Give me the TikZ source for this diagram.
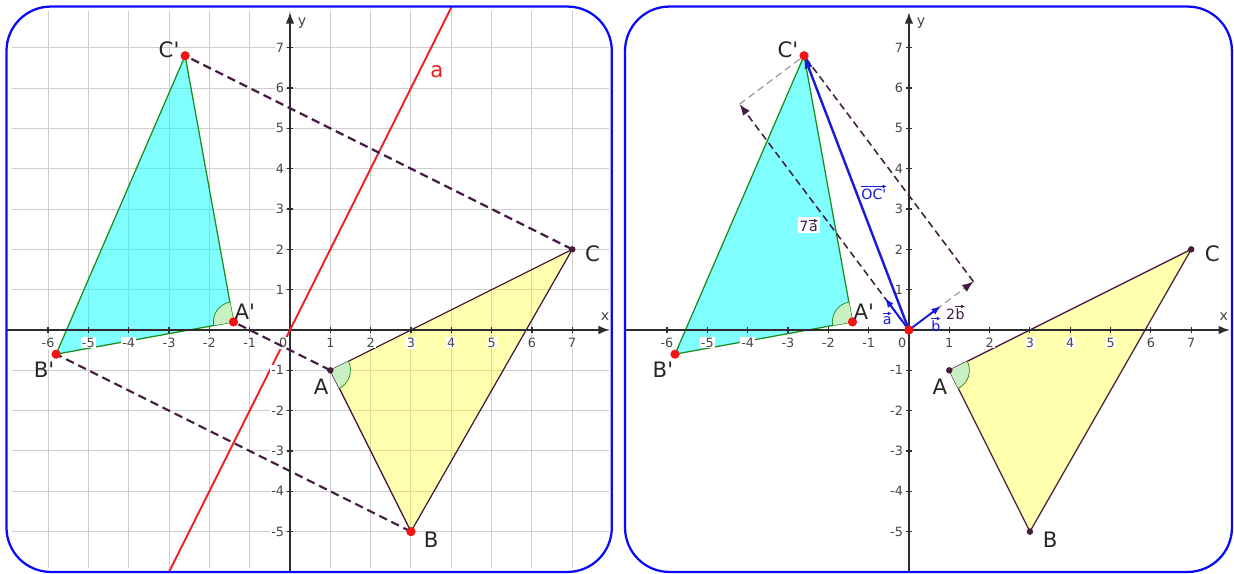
\documentclass[tikz,border=0pt]{standalone}
\usepackage{fontspec}
\setmainfont{DejaVu Sans}
\usetikzlibrary{arrows.meta,calc}
\definecolor{frame}{RGB}{10,10,250}
\definecolor{gridc}{RGB}{205,205,205}
\definecolor{axisc}{RGB}{45,45,45}
\definecolor{ticktxt}{RGB}{70,70,70}
\definecolor{plum}{RGB}{70,30,60}
\definecolor{dashc}{RGB}{65,30,65}
\definecolor{leaf}{RGB}{30,140,30}
\definecolor{anglefill}{RGB}{200,240,195}
\definecolor{mirror}{RGB}{235,30,30}
\definecolor{dotred}{RGB}{240,20,20}
\definecolor{vecblue}{RGB}{25,25,215}
\definecolor{lemon}{RGB}{255,255,0}
\definecolor{aqua}{RGB}{0,255,255}
\tikzset{
  panel/.style={draw=frame, line width=1.6pt, rounded corners=1.1cm},
  gridline/.style={draw=gridc, line width=0.7pt},
  axisline/.style={draw=axisc, line width=1.1pt, -{Latex[length=8pt,width=6pt]}},
  tickmark/.style={draw=axisc, line width=0.8pt},
  ticklbl/.style={font=\fontsize{9}{10}\selectfont, text=ticktxt, fill=white, inner sep=0.6pt},
  axlbl/.style={font=\fontsize{10}{12}\selectfont, text=ticktxt},
  orig/.style={fill=lemon, fill opacity=0.32, draw=plum, line width=0.9pt, line join=round},
  img/.style={fill=aqua, fill opacity=0.5, draw=leaf, line width=0.9pt, line join=round},
  angmark/.style={fill=anglefill, draw=leaf, line width=0.5pt},
  corr/.style={draw=dashc, line width=1.5pt, dash pattern=on 6pt off 3.5pt},
  reddot/.style={circle, fill=dotred, inner sep=0pt, minimum size=2.3mm},
  darkdot/.style={circle, fill=plum, inner sep=0pt, minimum size=1.6mm},
  ptlbl/.style={font=\fontsize{15}{18}\selectfont, text=black!85},
  veclbl/.style={font=\fontsize{10}{12}\selectfont, inner sep=1pt},
  ocvec/.style={draw=vecblue, line width=1.7pt, -{Latex[length=9pt,width=6pt]}},
  unitvec/.style={draw=vecblue, line width=1.4pt, -{Latex[length=7pt,width=5pt]}},
  sevena/.style={draw=dashc, line width=1.1pt, dash pattern=on 5pt off 3pt, -{Latex[length=8pt,width=6pt]}},
  twob/.style={draw=dashc!55, line width=0.7pt, dash pattern=on 5pt off 3pt, -{Latex[length=8pt,width=6pt,color=dashc]}},
  transl/.style={draw=dashc, line width=1.1pt, dash pattern=on 5pt off 3pt},
  ghost/.style={draw=dashc!55, line width=0.7pt, dash pattern=on 5pt off 3pt},
}
% letter(s) with a small arrow drawn above
\newcommand{\vlab}[1]{\tikz[baseline=(vt.base)]{\node[inner sep=0pt] (vt) {#1}; \draw[line width=0.6pt, -{Latex[length=2.8pt,width=2.8pt]}] ([yshift=1.6pt]vt.north west) -- ([yshift=1.6pt]vt.north east);}}

\begin{document}
\begin{tikzpicture}
  \useasboundingbox (0,0) rectangle (30.6,14.233);
  % left panel: reflection of ABC in the line a (y = 2x)
  \begin{scope}[shift={(7.191,6.05)}]
    \coordinate (lA) at (1,-1); \coordinate (lB) at (3,-5); \coordinate (lC) at (7,2);
    \coordinate (lAp) at (-1.4,0.2); \coordinate (lBp) at (-5.8,-0.6); \coordinate (lCp) at (-2.6,6.8);
    \begin{scope}
      \clip[rounded corners=1.1cm] (-7.03,-6) rectangle (7.98,8.02);
      \draw[gridline] (-6.9,-5.9) grid (7.9,7.9);
      \filldraw[orig] (lA) -- (lB) -- (lC) -- cycle;
      \filldraw[img] (lAp) -- (lBp) -- (lCp) -- cycle;
      \fill[anglefill] (lA) -- ++(-63.43:0.5) arc[start angle=-63.43, end angle=26.57, radius=0.5] -- cycle;
      \draw[angmark, fill=none] (lA) ++(-63.43:0.5) arc[start angle=-63.43, end angle=26.57, radius=0.5];
      \fill[anglefill] (lAp) -- ++(100.3:0.5) arc[start angle=100.3, end angle=190.3, radius=0.5] -- cycle;
      \draw[angmark, fill=none] (lAp) ++(100.3:0.5) arc[start angle=100.3, end angle=190.3, radius=0.5];
      \draw[axisline] (-7.1,0) -- (7.93,0);
      \draw[axisline] (0,-6.1) -- (0,7.88);
      \draw[draw=mirror, line width=1.3pt] (-3.1,-6.2) -- (4.1,8.2);
    \end{scope}
    \foreach \x in {-6,...,-1,1,2,...,7} { \draw[tickmark] (\x,-0.08) -- (\x,0.08); \node[ticklbl] (lx\x) at (\x,-0.32) {\x}; }
    \foreach \y in {-5,...,-1,1,2,...,7} { \draw[tickmark] (-0.08,\y) -- (0.08,\y); \node[ticklbl, anchor=east] (ly\y) at (-0.12,\y) {\y}; }
    \node[ticklbl] (lzero) at (-0.17,-0.32) {0};
    \node[axlbl] (lxl) at (7.81,0.32) {x};
    \node[axlbl] (lyl) at (0.3,7.61) {y};
    \draw[corr] (lC) -- (lCp);
    \draw[corr] (lB) -- (lBp);
    \draw[corr] (lA) -- (lAp);
    \node[darkdot] (lAd) at (lA) {}; \node[darkdot] (lCd) at (lC) {};
    \node[reddot] (lBd) at (lB) {}; \node[reddot] (lApd) at (lAp) {};
    \node[reddot] (lBpd) at (lBp) {}; \node[reddot] (lCpd) at (lCp) {};
    \node[ptlbl] (lAl) at (0.77,-1.41) {A};
    \node[ptlbl] (lBl) at (3.5,-5.21) {B};
    \node[ptlbl] (lCl) at (7.5,1.88) {C};
    \node[ptlbl] (lApl) at (-1.12,0.45) {A\textquotesingle};
    \node[ptlbl] (lBpl) at (-6.1,-0.99) {B\textquotesingle};
    \node[ptlbl] (lCpl) at (-3.0,6.94) {C\textquotesingle};
    \node[ptlbl, text=mirror] (lal) at (3.64,6.4) {a};
    \draw[panel] (-7.03,-6) rectangle (7.98,8.02);
  \end{scope}
  % right panel: OC' = 7a + 2b
  \begin{scope}[shift={(22.539,6.05)}]
    \coordinate (rA) at (1,-1); \coordinate (rB) at (3,-5); \coordinate (rC) at (7,2);
    \coordinate (rAp) at (-1.4,0.2); \coordinate (rBp) at (-5.8,-0.6); \coordinate (rCp) at (-2.6,6.8);
    \coordinate (rO) at (0,0); \coordinate (r7a) at (-4.2,5.6); \coordinate (r2b) at (1.6,1.2);
    \coordinate (rua) at (-0.6,0.8); \coordinate (rub) at (0.8,0.6);
    \begin{scope}
      \clip[rounded corners=1.1cm] (-7.04,-6) rectangle (8.01,8.02);
      \filldraw[orig] (rA) -- (rB) -- (rC) -- cycle;
      \filldraw[img] (rAp) -- (rBp) -- (rCp) -- cycle;
      \fill[anglefill] (rA) -- ++(-63.43:0.5) arc[start angle=-63.43, end angle=26.57, radius=0.5] -- cycle;
      \draw[angmark, fill=none] (rA) ++(-63.43:0.5) arc[start angle=-63.43, end angle=26.57, radius=0.5];
      \fill[anglefill] (rAp) -- ++(100.3:0.5) arc[start angle=100.3, end angle=190.3, radius=0.5] -- cycle;
      \draw[angmark, fill=none] (rAp) ++(100.3:0.5) arc[start angle=100.3, end angle=190.3, radius=0.5];
      \draw[axisline] (-7.1,0) -- (7.96,0);
      \draw[axisline] (0,-6.1) -- (0,7.88);
    \end{scope}
    \foreach \x in {-6,...,-1,1,2,...,7} { \draw[tickmark] (\x,-0.08) -- (\x,0.08); \node[ticklbl] (rx\x) at (\x,-0.32) {\x}; }
    \foreach \y in {-5,...,-1,1,2,...,7} { \draw[tickmark] (-0.08,\y) -- (0.08,\y); \node[ticklbl, anchor=east] (ry\y) at (-0.12,\y) {\y}; }
    \node[ticklbl] (rzero) at (-0.17,-0.32) {0};
    \node[axlbl] (rxl) at (7.81,0.32) {x};
    \node[axlbl] (ryl) at (0.3,7.61) {y};
    \draw[ghost] (r7a) -- (rCp);
    \draw[twob] (rO) -- (r2b);
    \draw[transl] (r2b) -- (rCp);
    \draw[sevena] (rO) -- (r7a);
    \draw[ocvec] (rO) -- (rCp);
    \draw[unitvec] (rO) -- (rua);
    \draw[unitvec] (rO) -- (rub);
    \node[darkdot] (rAd) at (rA) {}; \node[darkdot] (rBd) at (rB) {}; \node[darkdot] (rCd) at (rC) {};
    \node[reddot] (rApd) at (rAp) {}; \node[reddot] (rBpd) at (rBp) {};
    \node[reddot] (rCpd) at (rCp) {}; \node[reddot] (rOd) at (rO) {};
    \node[ptlbl] (rAl) at (0.77,-1.41) {A};
    \node[ptlbl] (rBl) at (3.5,-5.21) {B};
    \node[ptlbl] (rCl) at (7.52,1.88) {C};
    \node[ptlbl] (rApl) at (-1.12,0.45) {A\textquotesingle};
    \node[ptlbl] (rBpl) at (-6.1,-0.99) {B\textquotesingle};
    \node[ptlbl] (rCpl) at (-3.0,6.94) {C\textquotesingle};
    \node[veclbl, text=vecblue] (rocl) at (-0.87,3.42) {\vlab{OC\textquotesingle}};
    \node[veclbl, text=dashc, fill=white] (r7al) at (-2.48,2.6) {7\vlab{a}};
    \node[veclbl, text=dashc] (r2bl) at (1.16,0.44) {2\vlab{b}};
    \node[veclbl, text=vecblue] (ral) at (-0.54,0.3) {\vlab{a}};
    \node[veclbl, text=vecblue] (rbl) at (0.67,0.14) {\vlab{b}};
    \draw[panel] (-7.04,-6) rectangle (8.01,8.02);
  \end{scope}
\end{tikzpicture}
\end{document}
